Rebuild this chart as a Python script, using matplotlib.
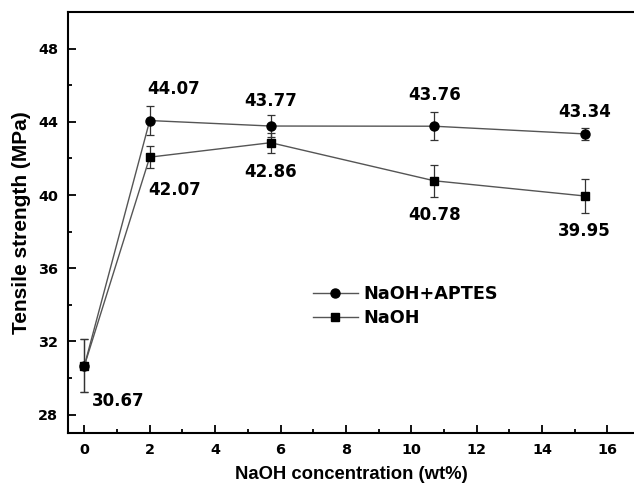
import matplotlib
matplotlib.use("Agg")
import matplotlib.pyplot as plt
from matplotlib.ticker import MultipleLocator
from matplotlib.lines import Line2D

plt.rcParams['font.family'] = ['DejaVu Sans']
plt.rcParams['font.weight'] = 'bold'

# data
naoh_conc = [0, 2, 5.7, 10.7, 15.3]
aptes_vals = [30.67, 44.07, 43.77, 43.76, 43.34]
aptes_err = [1.45, 0.8, 0.6, 0.78, 0.35]
naoh_vals = [30.67, 42.07, 42.86, 40.78, 39.95]
naoh_err = [1.45, 0.6, 0.55, 0.88, 0.92]
series_names = ["NaOH+APTES", "NaOH"]
x_ticks = [0, 2, 4, 6, 8, 10, 12, 14, 16]
y_ticks = [28, 32, 36, 40, 44, 48]

fig = plt.figure(figsize=(6.34, 4.87), dpi=100)
ax_w = 1 - 68/634 + 0.002
ax = fig.add_axes([68/634, 54/487, ax_w, (433-12)/487])

line_col = '#555555'
ax.errorbar(naoh_conc, aptes_vals, yerr=aptes_err, color=line_col, lw=1.0,
            marker='o', ms=6.5, mfc='black', mec='black', ecolor='#333333',
            elinewidth=0.9, capsize=3, capthick=0.9, zorder=3)
ax.errorbar(naoh_conc, naoh_vals, yerr=naoh_err, color=line_col, lw=1.0,
            marker='s', ms=6, mfc='black', mec='black', ecolor='#333333',
            elinewidth=0.9, capsize=3, capthick=0.9, zorder=3)

# value labels (pixel offsets from points)
aptes_off = [None, (24, 32), (0, 25), (0, 31), (0, 22)]
naoh_off = [(34, -35), (25, -33), (0, -29), (0, -34), (0, -35)]
for xv, yv, off in zip(naoh_conc, aptes_vals, aptes_off):
    if off is None:
        continue
    ax.annotate(f"{yv:.2f}", (xv, yv), xytext=off, textcoords='offset pixels',
                ha='center', va='center', fontsize=12, fontweight='bold')
for xv, yv, off in zip(naoh_conc, naoh_vals, naoh_off):
    ax.annotate(f"{yv:.2f}", (xv, yv), xytext=off, textcoords='offset pixels',
                ha='center', va='center', fontsize=12, fontweight='bold')

ax.set_xlim(-0.5, 16.85)
ax.set_ylim(27, 50)
ax.set_xticks(x_ticks)
ax.set_yticks(y_ticks)
ax.xaxis.set_minor_locator(MultipleLocator(1))
ax.yaxis.set_minor_locator(MultipleLocator(2))
ax.tick_params(which='both', direction='in', top=False, right=False, width=1.3)
ax.tick_params(which='major', length=6, labelsize=10.4, pad=7)
ax.tick_params(which='minor', length=3)
for lab in ax.get_xticklabels() + ax.get_yticklabels():
    lab.set_fontweight('bold')

for s in ['left', 'bottom', 'top']:
    ax.spines[s].set_linewidth(1.5)
ax.spines['right'].set_visible(False)

lab_font = ['Liberation Sans', 'DejaVu Sans']
ax.set_xlabel("NaOH concentration (wt%)", fontsize=13.3, fontweight='bold',
              family=lab_font, labelpad=7)
ax.set_ylabel("Tensile strength (MPa)", fontsize=15, fontweight='bold',
              family=lab_font, labelpad=5)

handles = [Line2D([], [], color=line_col, lw=1.0, marker='o', ms=6.5, mfc='black', mec='black'),
           Line2D([], [], color=line_col, lw=1.0, marker='s', ms=6, mfc='black', mec='black')]
leg = ax.legend(handles, series_names, loc='center left',
                bbox_to_anchor=((312.7-68)/(ax_w*634), (433-306)/421), frameon=False,
                fontsize=12.7, handlelength=2.55, handletextpad=0.35, labelspacing=0.35,
                borderpad=0, borderaxespad=0)
for t in leg.get_texts():
    t.set_fontweight('bold')

fig.savefig("out.png", dpi=100)
